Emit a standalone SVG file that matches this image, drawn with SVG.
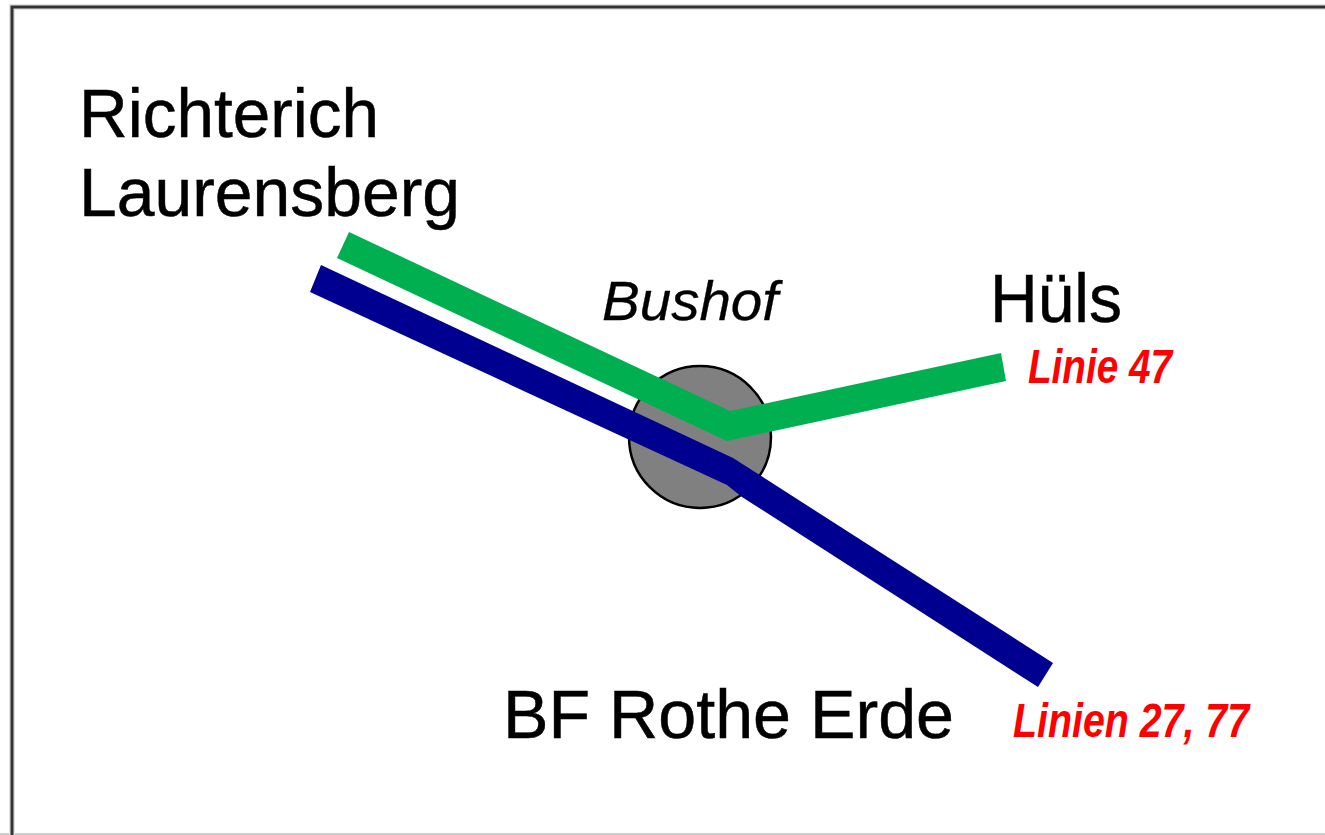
<svg xmlns="http://www.w3.org/2000/svg" width="1325" height="835" viewBox="0 0 1325 835">
<style>
.l{font-family:"Liberation Sans",Arial,sans-serif;font-size:69px;fill:#000;stroke:#000;stroke-width:.5}
.b{font-family:"Liberation Sans",Arial,sans-serif;font-size:56px;font-style:italic;fill:#000;stroke:#000;stroke-width:.3}
.r{font-family:"Liberation Sans",Arial,sans-serif;font-size:48px;font-weight:bold;font-style:italic;fill:#f00}
</style>
<rect width="1325" height="835" fill="#fff"/>
<path d="M0 834H1325" fill="none" stroke="#ccc" stroke-width="2"/>
<path d="M12 835V7H1325" fill="none" stroke="#e2e2e2" stroke-width="6"/>
<path d="M12 835V7H1325" fill="none" stroke="#333" stroke-width="3"/>
<g id="bushof"><circle cx="700" cy="437" r="71" fill="#808080" stroke="#000" stroke-width="2.5"/>
<text x="602" y="320" class="b" textLength="176" lengthAdjust="spacingAndGlyphs">Bushof</text></g>
<g id="connectors">
<polygon fill="#00b050" points="349,232 730,411 1001,353 1006,381 727,441 337,258"/>
<polygon fill="#000090" points="321,265 733,458 1053,663 1038,687 742,497 727,485 310,292"/>
</g>
<g id="richterich"><text x="79" y="137" class="l" textLength="300" lengthAdjust="spacingAndGlyphs">Richterich</text><text x="79" y="216" class="l" textLength="381" lengthAdjust="spacingAndGlyphs">Laurensberg</text></g>
<g id="huels"><text x="990" y="322" class="l" textLength="132" lengthAdjust="spacingAndGlyphs">Hüls</text><text x="1028" y="383" class="r" textLength="144" lengthAdjust="spacingAndGlyphs">Linie 47</text></g>
<g id="rothe-erde"><text x="503" y="738" class="l" textLength="451" lengthAdjust="spacingAndGlyphs">BF Rothe Erde</text><text x="1013" y="737" class="r" textLength="236" lengthAdjust="spacingAndGlyphs">Linien 27, 77</text></g>
</svg>
